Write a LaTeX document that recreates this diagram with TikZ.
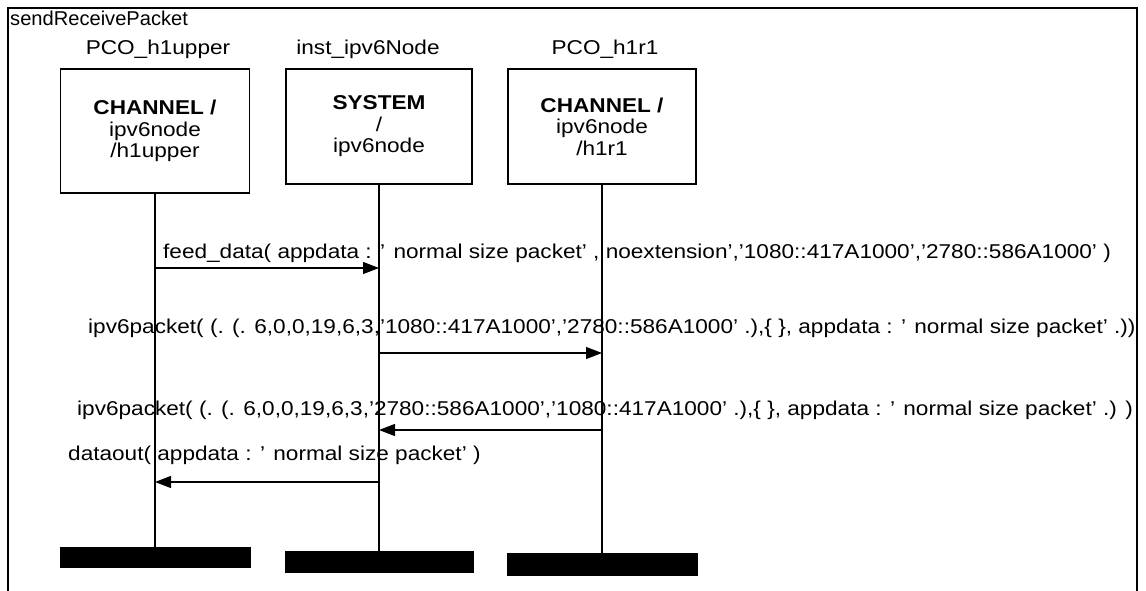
\documentclass[tikz,border=0pt]{standalone}
\usepackage{fontspec}
\setmainfont{Liberation Sans}[FakeStretch=1.13]
\usetikzlibrary{arrows.meta}

\begin{document}
\begin{tikzpicture}[x=1pt, y=-1pt]

    % Stijlen voor de kaders, levenslijnen en berichten
    \tikzset{
        msgfont/.style={font=\fontsize{20}{22}\selectfont},
        instbox/.style={draw, line width=1.8pt, align=center, inner sep=0pt, font=\fontsize{20}{21.5}\selectfont},
        endbar/.style={fill=black, draw=black, inner sep=0pt},
        lifeline/.style={line width=1.8pt},
        msgarrow/.style={line width=1.2pt, -{Triangle[length=16pt, width=12pt]}},
        msgtext/.style={anchor=base west, inner sep=0pt, font=\fontsize{20}{22}\selectfont}
    }

    \useasboundingbox (0,0) rectangle (1146,591);

    % --- KADER EN TITEL ---
    \draw[line width=2.4pt] (8,600) -- (8,8) -- (1137,8) -- (1137,600);
    \node[msgfont, anchor=base west, inner sep=0pt] (title) at (10,26) {\scalebox{0.89}[1]{sendReceivePacket}};

    % --- INSTANTIES ---
    \node[msgfont, anchor=base] (hdr1) at (158,55) {PCO\_h1upper};
    \node[msgfont, anchor=base] (hdr2) at (368,55) {inst\_ipv6Node};
    \node[msgfont, anchor=base] (hdr3) at (605,55) {PCO\_h1r1};

    \node[instbox, minimum width=189pt, minimum height=124pt, anchor=north] (box1) at (155,68) {\textbf{CHANNEL /}\\ipv6node\\/h1upper};
    \node[instbox, minimum width=186pt, minimum height=115pt, anchor=north] (box2) at (379,68) {\textbf{SYSTEM}\\/\\ipv6node};
    \node[instbox, minimum width=188pt, minimum height=115pt, anchor=north] (box3) at (602,68) {\textbf{CHANNEL /}\\ipv6node\\/h1r1};

    % --- EINDBALKEN ---
    \node[endbar, minimum width=190pt, minimum height=20pt, anchor=north] (bar1) at (155,547) {};
    \node[endbar, minimum width=188pt, minimum height=21pt, anchor=north] (bar2) at (379,551) {};
    \node[endbar, minimum width=190pt, minimum height=22pt, anchor=north] (bar3) at (602,553) {};

    % --- LEVENSLIJNEN ---
    \foreach \i in {1,2,3} {
        \draw[lifeline] (box\i.south) -- (bar\i.north);
    }

    % --- BERICHTEN ---
    \node[msgtext] (txt1) at (163,258) {feed\_data( appdata : ' normal size packet' , noextension','1080::417A1000','2780::586A1000' )};
    \node[msgtext] (txt2) at (88,333) {ipv6packet( (. (. 6,0,0,19,6,3,'1080::417A1000','2780::586A1000' .),\{ \}, appdata : ' normal size packet' .))};
    \node[msgtext] (txt3) at (77,415) {ipv6packet( (. (. 6,0,0,19,6,3,'2780::586A1000','1080::417A1000' .),\{ \}, appdata : ' normal size packet' .) )};
    \node[msgtext] (txt4) at (68,460) {dataout( appdata : ' normal size packet' )};

    % Pijlen tussen de levenslijnen
    \foreach \from/\to/\yy in {1/2/268, 2/3/353, 3/2/430, 2/1/482} {
        \coordinate (lvl) at (0,\yy);
        \draw[msgarrow] (box\from.south |- lvl) -- (box\to.south |- lvl);
    }

\end{tikzpicture}
\end{document}
